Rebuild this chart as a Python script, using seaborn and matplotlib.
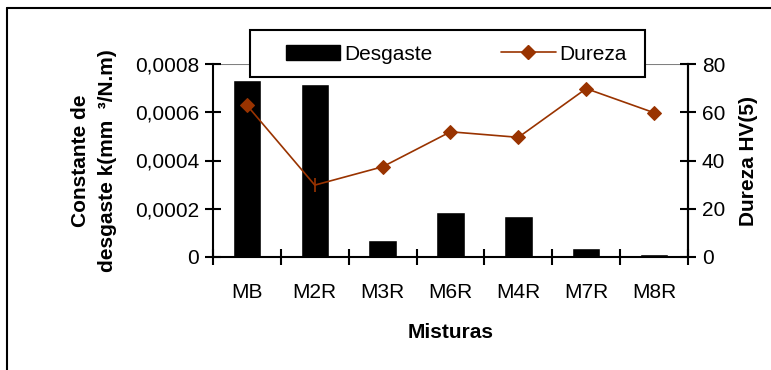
import numpy as np
import pandas as pd
import matplotlib
matplotlib.use("Agg")
import matplotlib.pyplot as plt
import seaborn as sns
from matplotlib.lines import Line2D
from matplotlib.patches import Patch, Rectangle
from matplotlib.ticker import FuncFormatter, FixedLocator

# Data
misturas = ["MB", "M2R", "M3R", "M6R", "M4R", "M7R", "M8R"]
desgaste = [0.000734, 0.000717, 0.0000705, 0.000187, 0.000170, 0.0000373, 0.0000124]
dureza = [62.9, 29.8, 37.4, 51.9, 49.6, 69.8, 59.8]

line_color = "#993300"
font_size = 15

sns.set_style("white")
plt.rcParams["font.family"] = ["Liberation Sans", "DejaVu Sans"]
plt.rcParams["font.size"] = font_size
for key in ["text.color", "axes.labelcolor", "xtick.color", "ytick.color"]:
    plt.rcParams[key] = "black"

df = pd.DataFrame({"Misturas": misturas, "Desgaste": desgaste, "Dureza": dureza})

fig = plt.figure(figsize=(7.71, 3.70), dpi=100)
ax = fig.add_axes([213 / 771, 1 - 257 / 370, 475 / 771, 193 / 370])

sns.barplot(data=df, x="Misturas", y="Desgaste", color="black", saturation=1,
            width=0.42, ax=ax)

ax.set_ylim(0, 0.0008)
ax.set_xlim(-0.5, len(misturas) - 0.5)
ax.set_yticks([0, 0.0002, 0.0004, 0.0006, 0.0008])
ax.yaxis.set_major_formatter(FuncFormatter(
    lambda v, p: "0" if v == 0 else f"{v:.4f}".replace(".", ",")))
ax.axhline(0.0008, color="#808080", lw=1.5, zorder=0)

# x ticks sit between categories, labels at category centres
ax.xaxis.set_major_locator(FixedLocator(np.arange(len(misturas) + 1) - 0.5))
ax.xaxis.set_minor_locator(FixedLocator(np.arange(len(misturas))))
ax.set_xticklabels([""] * (len(misturas) + 1))
ax.set_xticklabels(misturas, minor=True)
ax.tick_params(axis="x", which="major", direction="inout", length=12, width=1.5,
               bottom=True)
ax.tick_params(axis="x", which="minor", length=0, pad=19, labelsize=font_size)
ax.tick_params(axis="y", direction="inout", length=12, width=1.5, left=True,
               labelsize=font_size, pad=4)

ax.spines["top"].set_visible(False)
for side in ["left", "right", "bottom"]:
    ax.spines[side].set_color("black")
    ax.spines[side].set_linewidth(1.5)

ax.set_xlabel("Misturas", fontsize=font_size, fontweight="bold", labelpad=15)
ax.set_ylabel("Constante de\ndesgaste k(mm  ³/N.m)", fontsize=font_size,
              fontweight="bold", labelpad=13, linespacing=1.5)

# Hardness on a secondary axis
ax2 = ax.twinx()
mark_idx = [i for i in range(len(misturas)) if i != 1]
sns.lineplot(data=df, x="Misturas", y="Dureza", color=line_color, lw=1.2,
             marker="D", markersize=7.5, markeredgecolor=line_color,
             markevery=mark_idx, sort=False, ax=ax2)
ax2.plot([misturas[1]], [dureza[1]], marker="|", ms=10, mew=1.2,
         color=line_color, ls="none")
ax2.set_ylim(0, 80)
ax2.set_yticks([0, 20, 40, 60, 80])
ax2.tick_params(axis="y", direction="inout", length=12, width=1.5, right=True,
                labelsize=font_size, pad=4)
ax2.set_ylabel("Dureza HV(5)", fontsize=font_size, fontweight="bold", labelpad=10)
for side in ["top", "left", "bottom"]:
    ax2.spines[side].set_visible(False)
ax2.spines["right"].set_color("black")
ax2.spines["right"].set_linewidth(1.5)

# legend box drawn separately so the padding can match the original
fig.add_artist(Rectangle((250 / 771, 1 - 77 / 370), 395 / 771, 47 / 370,
                         transform=fig.transFigure, facecolor="white",
                         edgecolor="black", lw=1.5, zorder=9))
handles = [
    Patch(facecolor="black", edgecolor="black", label="Desgaste"),
    Line2D([0], [0], color=line_color, lw=1.2, marker="D", markersize=7.5,
           label="Dureza"),
]
leg = fig.legend(handles=handles, loc="center left", ncol=2,
                 bbox_to_anchor=(286 / 771, 1 - 54 / 370),
                 frameon=False, fontsize=font_size, handlelength=2.6,
                 handletextpad=0.2, columnspacing=3.3, borderpad=0,
                 borderaxespad=0)
leg.set_zorder(10)

# outer chart border (left and top edges)
fig.add_artist(Line2D([7 / 771, 7 / 771], [0, 1 - 8 / 370], color="black", lw=1.5,
                      transform=fig.transFigure))
fig.add_artist(Line2D([7 / 771, 1], [1 - 8 / 370, 1 - 8 / 370], color="black",
                      lw=1.5, transform=fig.transFigure))

fig.savefig("out.png", dpi=100)
